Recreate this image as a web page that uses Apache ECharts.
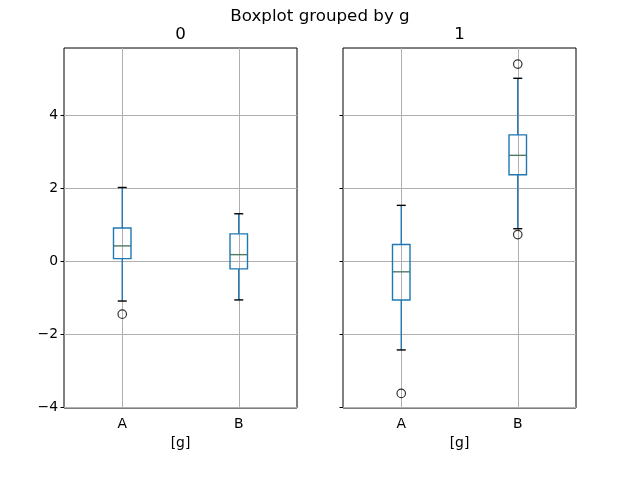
<!DOCTYPE html>
<html>
<head>
<meta charset="utf-8">
<script src="https://cdn.jsdelivr.net/npm/echarts@6/dist/echarts.min.js"></script>
<style>html,body{margin:0;padding:0;background:#fff;}#c{width:640px;height:480px;}</style>
</head>
<body>
<div id="c"></div>
<script>
// ---- data ----
const categories = ['A', 'B'];
const groupNames = ['0', '1'];
// [low whisker, Q1, median, Q3, high whisker]
const group0Boxes = [
  [-1.09, 0.07, 0.42, 0.91, 2.02],
  [-1.06, -0.21, 0.18, 0.75, 1.30]
];
const group1Boxes = [
  [-2.43, -1.06, -0.29, 0.46, 1.53],
  [0.89, 2.37, 2.90, 3.46, 5.01]
];
// outliers: [category index, value]
const group0Outliers = [[0, -1.45]];
const group1Outliers = [[0, -3.62], [1, 5.40], [1, 0.73]];
const yTicks = [-4, -2, 0, 2, 4];

const FONT = 'DejaVu Sans';
const BLUE = '#1f77b4';
const MED = '#4f7a66';
const GRIDC = '#b0b0b0';

function fmtY(v) {
  return v < 0 ? '\u2212' + Math.abs(v) : String(v);
}

function boxRender(params, api) {
  const idx = api.value(0);
  const low = api.coord([idx, api.value(1)]);
  const q1 = api.coord([idx, api.value(2)]);
  const med = api.coord([idx, api.value(3)]);
  const q3 = api.coord([idx, api.value(4)]);
  const high = api.coord([idx, api.value(5)]);
  const x = low[0];
  const bw = 17.5, cw = 9;
  const lw = 1.4;
  return {
    type: 'group',
    children: [
      {type: 'line', shape: {x1: x, y1: low[1], x2: x, y2: q1[1]}, style: {stroke: BLUE, lineWidth: lw}},
      {type: 'line', shape: {x1: x, y1: q3[1], x2: x, y2: high[1]}, style: {stroke: BLUE, lineWidth: lw}},
      {type: 'rect', shape: {x: x - bw / 2, y: q3[1], width: bw, height: q1[1] - q3[1]}, style: {stroke: BLUE, fill: null, lineWidth: lw}},
      {type: 'line', shape: {x1: x - bw / 2, y1: med[1], x2: x + bw / 2, y2: med[1]}, style: {stroke: MED, lineWidth: lw}},
      {type: 'line', shape: {x1: x - cw / 2, y1: low[1], x2: x + cw / 2, y2: low[1]}, style: {stroke: '#000', lineWidth: lw}},
      {type: 'line', shape: {x1: x - cw / 2, y1: high[1], x2: x + cw / 2, y2: high[1]}, style: {stroke: '#000', lineWidth: lw}}
    ]
  };
}

function boxData(boxes) {
  return boxes.map((b, i) => [i].concat(b));
}

function xAxis(gi) {
  return {
    type: 'category', gridIndex: gi, data: categories,
    boundaryGap: true,
    axisLine: {show: false},
    axisTick: {show: true, alignWithLabel: true, length: 3.5, lineStyle: {color: '#000', width: 1}},
    axisLabel: {color: '#000', fontFamily: FONT, fontSize: 13.9, margin: 9},
    splitLine: {show: false},
    name: '[g]', nameLocation: 'middle', nameGap: 28,
    nameTextStyle: {color: '#000', fontFamily: FONT, fontSize: 13.9}
  };
}
function yAxis(gi, showLabels) {
  return {
    type: 'value', gridIndex: gi, min: -4.02, max: 5.84,
    axisLine: {show: false},
    axisTick: {show: true, length: 3.5, customValues: yTicks, lineStyle: {color: '#000', width: 1}},
    axisLabel: {show: showLabels, customValues: yTicks, color: '#000', fontFamily: FONT, fontSize: 13.9, margin: 6, formatter: fmtY},
    splitLine: {show: false}
  };
}

function gridLineSeries(gi) {
  return {
    type: 'line', xAxisIndex: gi, yAxisIndex: gi, z: 5, silent: true,
    data: [], showSymbol: false,
    markLine: {
      silent: true, symbol: 'none', animation: false, z: 5,
      label: {show: false},
      lineStyle: {color: GRIDC, width: 1, type: 'solid'},
      emphasis: {disabled: true},
      data: categories.map(c => ({xAxis: c})).concat(yTicks.map(v => ({yAxis: v})))
    }
  };
}

const option = {
  backgroundColor: '#fff',
  animation: false,
  grid: [
    {left: 64, right: 343, top: 48, bottom: 72, show: true, borderColor: '#000', borderWidth: 1, backgroundColor: 'transparent', z: 3},
    {left: 343, right: 64, top: 48, bottom: 72, show: true, borderColor: '#000', borderWidth: 1, backgroundColor: 'transparent', z: 3}
  ],
  xAxis: [xAxis(0), xAxis(1)],
  yAxis: [yAxis(0, true), yAxis(1, false)],
  graphic: [
    {type: 'text', x: 320, y: 17, style: {text: 'Boxplot grouped by g', font: '16.7px "DejaVu Sans"', fill: '#000', align: 'center', verticalAlign: 'middle', textAlign: 'center', textVerticalAlign: 'middle'}},
    {type: 'text', x: 180.5, y: 35, style: {text: groupNames[0], font: '16.7px "DejaVu Sans"', fill: '#000', align: 'center', verticalAlign: 'middle', textAlign: 'center', textVerticalAlign: 'middle'}},
    {type: 'text', x: 459.5, y: 35, style: {text: groupNames[1], font: '16.7px "DejaVu Sans"', fill: '#000', align: 'center', verticalAlign: 'middle', textAlign: 'center', textVerticalAlign: 'middle'}}
  ],
  series: [
    gridLineSeries(0),
    gridLineSeries(1),
    {type: 'custom', xAxisIndex: 0, yAxisIndex: 0, z: 8, data: boxData(group0Boxes), encode: {x: 0, y: [1, 2, 3, 4, 5]}, renderItem: boxRender},
    {type: 'custom', xAxisIndex: 1, yAxisIndex: 1, z: 8, data: boxData(group1Boxes), encode: {x: 0, y: [1, 2, 3, 4, 5]}, renderItem: boxRender},
    {type: 'scatter', xAxisIndex: 0, yAxisIndex: 0, z: 9, data: group0Outliers, symbol: 'circle', symbolSize: 8.5, itemStyle: {color: 'rgba(0,0,0,0)', borderColor: '#000', borderWidth: 1.2}},
    {type: 'scatter', xAxisIndex: 1, yAxisIndex: 1, z: 9, data: group1Outliers, symbol: 'circle', symbolSize: 8.5, itemStyle: {color: 'rgba(0,0,0,0)', borderColor: '#000', borderWidth: 1.2}}
  ]
};

const chart = echarts.init(document.getElementById('c'), null, {renderer: 'canvas'});
chart.setOption(option);
</script>
</body>
</html>
